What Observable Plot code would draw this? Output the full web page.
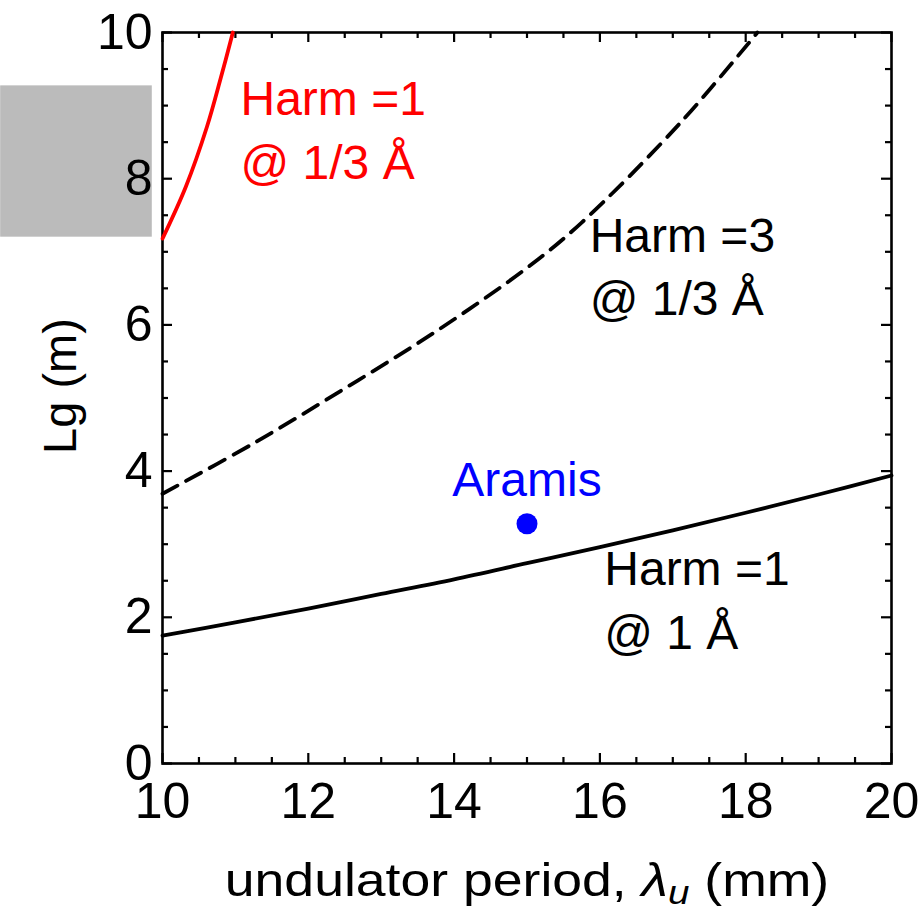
<!DOCTYPE html>
<html><head><meta charset="utf-8">
<script src="https://cdn.jsdelivr.net/npm/d3@7"></script>
<script src="https://cdn.jsdelivr.net/npm/@observablehq/plot@0.6"></script>
<style>body{margin:0;background:#fff} svg{display:block}</style>
</head><body><div id="chart"></div>
<script>
// Harm = 1 @ 1 Å (solid black)
const harm1_1A_x = [10, 11, 12, 13, 14, 15, 16, 17, 18, 19, 20];
const harm1_1A_y = [1.75, 1.93, 2.12, 2.32, 2.52, 2.74, 2.96, 3.19, 3.43, 3.68, 3.94];
// Harm = 3 @ 1/3 Å (dashed black)
const harm3_13A_x = [10, 11.25, 12.5, 13.75, 15, 15.75, 17.1, 18.16];
const harm3_13A_y = [3.69, 4.38, 5.13, 5.91, 6.78, 7.40, 8.76, 10.0];
// Harm = 1 @ 1/3 Å (solid red)
const harm1_13A_x = [10, 10.32, 10.61, 10.8, 10.965];
const harm1_13A_y = [7.18, 7.89, 8.71, 9.38, 10.0];
// Aramis point
const aramisX = [15];
const aramisY = [3.28];
// annotations
const annText = ["Harm =1\n@ 1/3 Å", "Harm =3\n@ 1/3 Å", "Harm =1\n@ 1 Å"];
const annX = [11.07, 15.86, 16.06];
const annY = [8.0, 6.13, 1.57];
const annColor = ["#ff0000", "#000000", "#000000"];
// ticks
const xMajor = [10, 12, 14, 16, 18, 20];
const yMajor = [0, 2, 4, 6, 8, 10];
const xMinor = d3.range(10, 20.001, 0.5).filter(v => v % 2 !== 0);
const yMinor = d3.range(0, 10.001, 0.5).filter(v => v % 2 !== 0);
// grey box at left
const greyBox = [{x1: 7.78, x2: 9.86, y1: 7.20, y2: 9.27}];

const toRows = (xs, ys) => xs.map((x, i) => ({x, y: ys[i]}));
const W = 924, H = 911, mL = 162, mR = 33, mT = 32, mB = 148;
const pW = W - mL - mR, pH = H - mT - mB;
const font = "'Liberation Sans', Arial, Helvetica, sans-serif";
const XLABEL = "undulator period, λu (mm)";

const chart = Plot.plot({
  width: W, height: H,
  marginLeft: mL, marginRight: mR, marginTop: mT, marginBottom: mB,
  style: {fontFamily: font, fontSize: "50px", background: "white", color: "black"},
  x: {domain: [10, 20], label: null},
  y: {domain: [0, 10], label: null},
  marks: [
    Plot.rect(greyBox, {x1: "x1", x2: "x2", y1: "y1", y2: "y2", fill: "#bbbbbb"}),
    // inward ticks: bottom/top
    Plot.tickX(xMajor, {x: d => d, insetTop: pH - 10, stroke: "black", strokeWidth: 2.2}),
    Plot.tickX(xMinor, {x: d => d, insetTop: pH - 6, stroke: "black", strokeWidth: 2.2}),
    Plot.tickX(xMajor, {x: d => d, insetBottom: pH - 10, stroke: "black", strokeWidth: 2.2}),
    Plot.tickX(xMinor, {x: d => d, insetBottom: pH - 6, stroke: "black", strokeWidth: 2.2}),
    // inward ticks: left/right
    Plot.tickY(yMajor, {y: d => d, insetRight: pW - 10, stroke: "black", strokeWidth: 2.2}),
    Plot.tickY(yMinor, {y: d => d, insetRight: pW - 6, stroke: "black", strokeWidth: 2.2}),
    Plot.tickY(yMajor, {y: d => d, insetLeft: pW - 10, stroke: "black", strokeWidth: 2.2}),
    Plot.tickY(yMinor, {y: d => d, insetLeft: pW - 6, stroke: "black", strokeWidth: 2.2}),
    Plot.axisX(xMajor, {tickSize: 0, tickPadding: 19, label: null, fontSize: 50, tickFormat: d => String(d)}),
    Plot.axisY(yMajor, {tickSize: 0, tickPadding: 10, label: null, fontSize: 50, tickFormat: d => String(d)}),
    Plot.frame({stroke: "black", strokeWidth: 2.6}),
    Plot.line(toRows(harm1_1A_x, harm1_1A_y), {x: "x", y: "y", stroke: "black", strokeWidth: 3.8, curve: "catmull-rom"}),
    Plot.line(toRows(harm3_13A_x, harm3_13A_y), {x: "x", y: "y", stroke: "black", strokeWidth: 3.8, strokeDasharray: "17,10", curve: "catmull-rom"}),
    Plot.line(toRows(harm1_13A_x, harm1_13A_y), {x: "x", y: "y", stroke: "#ff0000", strokeWidth: 3.8, curve: "catmull-rom"}),
    Plot.dot(toRows(aramisX, aramisY), {x: "x", y: "y", r: 10.5, fill: "#0000ff", stroke: "none"}),
    Plot.text(toRows(aramisX, aramisY), {x: "x", y: "y", text: () => "Aramis", fill: "#0000ff", fontSize: 48, textAnchor: "middle", lineAnchor: "bottom", dy: -28}),
    Plot.text(annText.map((t, i) => ({t, x: annX[i], y: annY[i], c: annColor[i]})),
      {x: "x", y: "y", text: "t", fill: d => d.c, fontSize: 48, textAnchor: "start", lineAnchor: "bottom", lineHeight: 1.33}),
    Plot.text(["Lg (m)"], {frameAnchor: "left", text: d => d, rotate: -90, dx: -102, dy: -12, fontSize: 47, textAnchor: "middle", lineAnchor: "middle"}),
    Plot.text([XLABEL], {frameAnchor: "bottom", text: d => d, dy: 132, fontSize: 47, textAnchor: "middle", lineAnchor: "bottom"})
  ]
});
document.getElementById("chart").appendChild(chart);

// rich formatting of the x-axis title (italic lambda, subscript u), slightly widened like the reference
d3.select(chart).selectAll("text")
  .filter(function() { return this.textContent === XLABEL; })
  .each(function() {
    const t = d3.select(this);
    t.text("");
    t.append("tspan").text("undulator period, ");
    t.append("tspan").attr("font-style", "italic").text("λ");
    t.append("tspan").attr("font-style", "italic").attr("font-size", "0.72em").attr("dy", "0.24em").text("u");
    t.append("tspan").attr("dy", "-0.17em").text(" (mm)");
    const tr = t.attr("transform") || "";
    t.attr("transform", tr + " scale(1.14,1)");
  });
</script>
</body></html>
